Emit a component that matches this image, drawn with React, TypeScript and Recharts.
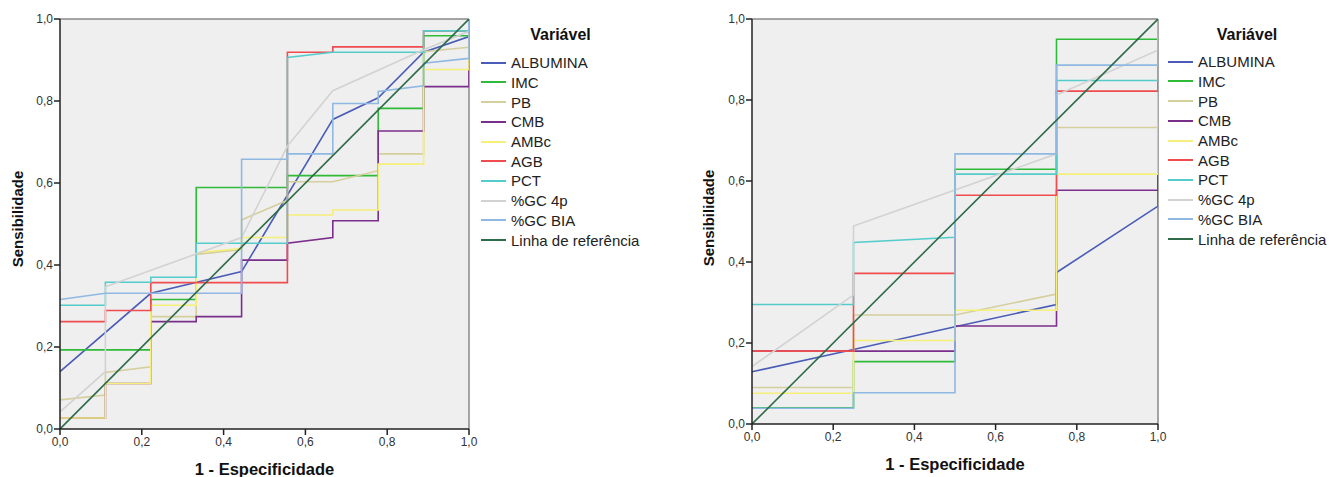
import { LineChart, Line, XAxis, YAxis, CartesianGrid, ReferenceLine } from "recharts";

type Pt = [number, number];

const seriesNames = ["ALBUMINA", "IMC", "PB", "CMB", "AMBc", "AGB", "PCT", "%GC 4p", "%GC BIA", "Linha de referência"];
const seriesColors = ["#4a5cb8", "#2fbb38", "#d4cf9c", "#7b2f8c", "#f6f07a", "#ef4c50", "#55cccc", "#d2d2d2", "#8fb9e2", "#2e6b48"];
const axisTicks = [0, 0.2, 0.4, 0.6, 0.8, 1];
const referenceLine: Pt[] = [[0, 0], [1, 1]];

// left chart (9 steps on 1 - especificidade)
const leftAlbumina: Pt[] = [[0, 0.14], [0.222, 0.331], [0.444, 0.384], [0.667, 0.755], [0.778, 0.808], [0.889, 0.919], [1, 0.957], [1, 1]];
const leftImc: Pt[] = [[0, 0.193], [0.222, 0.193], [0.222, 0.316], [0.333, 0.316], [0.333, 0.589], [0.556, 0.589], [0.556, 0.618], [0.778, 0.618], [0.778, 0.782], [0.889, 0.782], [0.889, 0.959], [1, 0.959], [1, 1]];
const leftPb: Pt[] = [[0, 0.071], [0.111, 0.083], [0.111, 0.138], [0.222, 0.152], [0.222, 0.274], [0.333, 0.274], [0.333, 0.426], [0.444, 0.438], [0.444, 0.51], [0.556, 0.558], [0.556, 0.603], [0.667, 0.603], [0.778, 0.63], [0.778, 0.671], [0.889, 0.671], [0.889, 0.92], [1, 0.931], [1, 1]];
const leftCmb: Pt[] = [[0, 0.027], [0.111, 0.027], [0.111, 0.111], [0.222, 0.111], [0.222, 0.262], [0.333, 0.262], [0.333, 0.274], [0.444, 0.274], [0.444, 0.412], [0.556, 0.412], [0.556, 0.453], [0.667, 0.467], [0.667, 0.508], [0.778, 0.508], [0.778, 0.727], [0.889, 0.727], [0.889, 0.835], [1, 0.835], [1, 1]];
const leftAmbc: Pt[] = [[0, 0.027], [0.111, 0.027], [0.111, 0.111], [0.222, 0.111], [0.222, 0.302], [0.333, 0.302], [0.333, 0.43], [0.444, 0.44], [0.444, 0.467], [0.556, 0.467], [0.556, 0.522], [0.667, 0.522], [0.667, 0.534], [0.778, 0.534], [0.778, 0.646], [0.889, 0.646], [0.889, 0.877], [1, 0.877], [1, 1]];
const leftAgb: Pt[] = [[0, 0.262], [0.111, 0.262], [0.111, 0.289], [0.222, 0.289], [0.222, 0.357], [0.556, 0.357], [0.556, 0.919], [0.667, 0.919], [0.667, 0.932], [0.889, 0.932], [0.889, 0.971], [1, 0.971], [1, 1]];
const leftPct: Pt[] = [[0, 0.302], [0.111, 0.302], [0.111, 0.358], [0.222, 0.358], [0.222, 0.37], [0.333, 0.37], [0.333, 0.453], [0.556, 0.453], [0.556, 0.906], [0.667, 0.919], [0.889, 0.919], [0.889, 0.971], [1, 0.971], [1, 1]];
const leftGc4p: Pt[] = [[0, 0.042], [0.111, 0.14], [0.111, 0.347], [0.444, 0.467], [0.556, 0.69], [0.667, 0.825], [0.889, 0.925], [1, 0.97], [1, 1]];
const leftGcBia: Pt[] = [[0, 0.316], [0.111, 0.331], [0.444, 0.331], [0.444, 0.658], [0.556, 0.658], [0.556, 0.671], [0.667, 0.671], [0.667, 0.794], [0.778, 0.794], [0.778, 0.823], [0.889, 0.837], [0.889, 0.892], [1, 0.904], [1, 1]];

// right chart (4 steps)
const rightAlbumina: Pt[] = [[0, 0.129], [0.25, 0.184], [0.5, 0.24], [0.75, 0.295], [0.75, 0.374], [1, 0.538], [1, 1]];
const rightImc: Pt[] = [[0, 0.04], [0.25, 0.04], [0.25, 0.154], [0.5, 0.154], [0.5, 0.629], [0.75, 0.629], [0.75, 0.95], [1, 0.95], [1, 1]];
const rightPb: Pt[] = [[0, 0.09], [0.25, 0.09], [0.25, 0.269], [0.5, 0.269], [0.75, 0.321], [0.75, 0.732], [1, 0.732], [1, 1]];
const rightCmb: Pt[] = [[0, 0.18], [0.25, 0.18], [0.5, 0.18], [0.5, 0.242], [0.75, 0.242], [0.75, 0.577], [1, 0.577], [1, 1]];
const rightAmbc: Pt[] = [[0, 0.076], [0.25, 0.076], [0.25, 0.206], [0.5, 0.206], [0.5, 0.281], [0.75, 0.281], [0.75, 0.617], [1, 0.617], [1, 1]];
const rightAgb: Pt[] = [[0, 0.18], [0.25, 0.18], [0.25, 0.372], [0.5, 0.372], [0.5, 0.565], [0.75, 0.565], [0.75, 0.822], [1, 0.822], [1, 1]];
const rightPct: Pt[] = [[0, 0.295], [0.25, 0.295], [0.25, 0.448], [0.5, 0.461], [0.5, 0.617], [0.75, 0.617], [0.75, 0.848], [1, 0.848], [1, 1]];
const rightGc4p: Pt[] = [[0, 0.142], [0.25, 0.319], [0.25, 0.489], [0.75, 0.667], [0.75, 0.812], [1, 0.923], [1, 1]];
const rightGcBia: Pt[] = [[0, 0.039], [0.25, 0.039], [0.25, 0.077], [0.5, 0.077], [0.5, 0.667], [0.75, 0.667], [0.75, 0.886], [1, 0.886], [1, 1]];

const leftSeries = [leftAlbumina, leftImc, leftPb, leftCmb, leftAmbc, leftAgb, leftPct, leftGc4p, leftGcBia, referenceLine];
const rightSeries = [rightAlbumina, rightImc, rightPb, rightCmb, rightAmbc, rightAgb, rightPct, rightGc4p, rightGcBia, referenceLine];

const FONT = "'Liberation Sans', Arial, sans-serif";
const fmt = (v: number) => v.toFixed(1).replace(".", ",");

const RocChart = ({ series, left, width, margin }: { series: Pt[][]; left: number; width: number; margin: any }) => (
  <div style={{ position: "absolute", left, top: 0 }}>
    <LineChart width={width} height={460} margin={margin}>
      <CartesianGrid fill="#efefef" horizontal={false} vertical={false} />
      <XAxis
        type="number"
        dataKey="x"
        domain={[0, 1]}
        ticks={axisTicks}
        tickFormatter={fmt}
        height={20}
        stroke="#222"
        strokeWidth={1.5}
        tick={{ fill: "#333", fontSize: 12, fontFamily: FONT }}
        tickSize={6}
        allowDataOverflow
      />
      <YAxis
        type="number"
        dataKey="y"
        domain={[0, 1]}
        ticks={axisTicks}
        tickFormatter={fmt}
        width={40}
        stroke="#222"
        strokeWidth={1.5}
        tick={{ fill: "#333", fontSize: 12, fontFamily: FONT }}
        tickSize={6}
        tickMargin={1}
        allowDataOverflow
      />
      <ReferenceLine y={1} stroke="#888" strokeWidth={1.5} />
      <ReferenceLine x={1} stroke="#888" strokeWidth={1.5} />
      {series.map((pts, i) => (
        <Line
          key={seriesNames[i]}
          name={seriesNames[i]}
          data={pts.map(([x, y]) => ({ x, y }))}
          dataKey="y"
          type="linear"
          stroke={seriesColors[i]}
          strokeWidth={1.6}
          dot={false}
          activeDot={false}
          isAnimationActive={false}
        />
      ))}
    </LineChart>
  </div>
);

const RocLegend = ({ left, top, titleCenter }: { left: number; top: number; titleCenter: number }) => (
  <div style={{ position: "absolute", left: 0, top: 0, fontFamily: FONT }}>
    <div style={{ position: "absolute", left: titleCenter - 60, width: 120, top: 25, textAlign: "center", fontWeight: "bold", fontSize: 16, color: "#111", lineHeight: "20px" }}>
      Variável
    </div>
    {seriesNames.map((name, i) => (
      <div key={name} style={{ position: "absolute", left, top: top + i * 19.7 - 10, height: 20, display: "flex", alignItems: "center", whiteSpace: "nowrap" }}>
        <span style={{ display: "inline-block", width: 25, height: 2, background: seriesColors[i], marginRight: 5 }} />
        <span style={{ fontSize: 15, color: "#222" }}>{name}</span>
      </div>
    ))}
  </div>
);

const AxisTitles = ({ xCenter, xTop, yCenterX, yCenterY }: { xCenter: number; xTop: number; yCenterX: number; yCenterY: number }) => (
  <div style={{ position: "absolute", left: 0, top: 0, fontFamily: FONT, fontWeight: "bold", color: "#111" }}>
    <div style={{ position: "absolute", left: xCenter - 100, width: 200, top: xTop, textAlign: "center", fontSize: 16.5, lineHeight: "18px" }}>
      1 - Especificidade
    </div>
    <div
      style={{
        position: "absolute",
        left: yCenterX - 70,
        top: yCenterY - 9,
        width: 140,
        textAlign: "center",
        fontSize: 15,
        lineHeight: "18px",
        transform: "rotate(-90deg)",
      }}
    >
      Sensibilidade
    </div>
  </div>
);

export default function App() {
  return (
    <div style={{ position: "absolute", left: 0, top: 0, width: 1329, height: 477, background: "#fff", overflow: "hidden" }}>
      <RocChart series={leftSeries} left={0} width={480} margin={{ top: 19, right: 11, left: 20, bottom: 11 }} />
      <RocChart series={rightSeries} left={700} width={470} margin={{ top: 19, right: 12, left: 12, bottom: 16 }} />
      <RocLegend left={481} top={62.7} titleCenter={560.5} />
      <RocLegend left={1168} top={61.7} titleCenter={1247} />
      <AxisTitles xCenter={264.5} xTop={460} yCenterX={18} yCenterY={219} />
      <AxisTitles xCenter={955} xTop={455} yCenterX={709} yCenterY={218} />
    </div>
  );
}
